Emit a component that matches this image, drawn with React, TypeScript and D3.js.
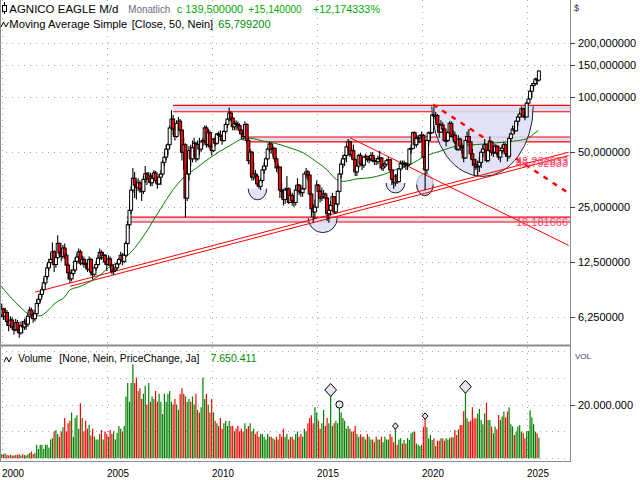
import React from 'react';
import * as d3 from 'd3';

// ---------- DATA (monthly, Jan 2000 .. Aug 2025) ----------
const firstOpen = 6.4;
const closePrices = [
  6.9, 6.3, 6.6, 5.9, 5.6, 6.0, 5.5, 5.3, 5.8, 5.3, 5.1, 5.6,
  5.5, 5.9, 5.7, 6.3, 6.8, 6.4, 6.1, 6.5, 7.4, 7.8, 8.3, 8.8,
  9.6, 10.4, 11.6, 12.4, 12.9, 14.2, 12.1, 13.2, 15.8, 14.0, 13.4, 14.9,
  13.6, 12.0, 10.9, 10.1, 10.8, 11.3, 12.6, 13.3, 14.2, 12.3, 12.9, 12.3,
  12.1, 11.4, 12.9, 11.0, 10.7, 11.6, 12.1, 13.1, 14.1, 13.2, 13.6, 12.5,
  12.1, 13.0, 12.0, 11.1, 11.3, 11.6, 12.2, 12.9, 13.6, 12.6, 13.6, 15.8,
  20.0, 24.0, 31.0, 36.0, 33.0, 32.0, 34.0, 31.5, 30.5, 35.5, 38.0, 36.0,
  37.0, 34.0, 36.0, 38.5, 35.0, 33.5, 36.5, 38.0, 44.0, 47.0, 52.0, 55.0,
  68, 76, 67, 61, 72, 74, 66, 50, 55, 28, 38, 51,
  46, 53, 56, 46, 55, 52, 57, 58, 68, 55, 64, 54,
  51, 59, 56, 63, 62, 61, 58, 65, 71, 76, 82, 77,
  69, 72, 71, 70, 66, 63, 61, 71, 58, 45, 50, 36.5,
  38, 37, 33.5, 32.5, 35, 40, 42, 46, 52, 55.5, 52, 52.5,
  46, 41, 41.5, 31, 30.5, 27.5, 31, 31.5, 26.5, 29, 27, 26.5,
  31, 33, 30.5, 30, 31.5, 38, 39, 37.5, 29.5, 24.5, 23.5, 25,
  33, 30.5, 28, 28.5, 29.5, 28, 23, 24, 25.5, 28.5, 23.5, 26,
  30.5, 38, 43, 46, 48, 53.5, 57, 48.5, 51, 45.5, 39, 42,
  48, 43, 42.5, 47, 47.5, 45.5, 46, 48, 45, 45, 44.5, 46,
  46.5, 41, 42, 43, 45, 45.5, 40, 35.5, 34, 37, 34.5, 40.5,
  43.5, 43, 43.5, 42.5, 43, 52, 52.5, 64, 55, 59.5, 60, 61.5,
  62, 47, 40, 58, 64, 64, 80, 79, 79.5, 71, 64.5, 70.5,
  67, 58, 58, 64, 72, 61, 62, 57, 52, 59, 54, 53,
  46.5, 58, 61, 57, 49, 45.5, 43, 41.5, 42, 44, 50, 52,
  55, 45, 51, 57, 50, 50, 54, 49.5, 47, 51, 52.5, 55,
  49, 47.5, 59.5, 63, 67, 65.5, 74, 78, 81, 86.5, 79, 78,
  93, 98, 108, 116, 119, 126, 124.36, 139.5,
];
const highPrices = [
  7.4, 7.0, 7.0, 6.8, 6.1, 6.3, 6.2, 5.7, 6.1, 6.0, 5.6, 5.9,
  5.9, 6.1, 6.2, 6.6, 7.1, 7.0, 6.6, 6.8, 7.8, 8.2, 8.6, 9.2,
  10.2, 10.9, 12.2, 13.0, 14.0, 16.0, 14.5, 14.0, 17.5, 16.0, 14.5, 15.5,
  15.8, 14.0, 12.3, 11.3, 11.4, 12.0, 13.2, 13.9, 14.8, 14.6, 13.5, 13.4,
  13.0, 12.5, 13.4, 13.2, 11.5, 12.0, 12.6, 13.6, 14.8, 14.5, 14.2, 13.8,
  12.8, 13.6, 13.4, 12.2, 11.8, 12.2, 12.6, 13.2, 14.2, 14.0, 14.0, 16.3,
  21.0, 26.0, 32.5, 41.0, 39.0, 35.0, 36.0, 35.0, 33.5, 37.0, 42.0, 39.0,
  39.0, 38.5, 38.0, 40.0, 39.5, 36.0, 38.0, 40.0, 45.0, 50.0, 55.0, 56.0,
  70, 85, 80, 69, 75, 78, 76, 67, 60, 56, 42, 54,
  55, 58, 60, 57, 58, 60, 58, 60, 70, 70, 67, 66,
  58, 60, 61, 64, 65, 66, 62, 66, 73, 77, 88, 84,
  78, 74, 75, 74, 72, 67, 66, 74, 72, 60, 52, 51,
  44, 40, 38, 35, 36, 42, 44, 47, 53, 57, 56, 54,
  53, 47, 43, 41, 34, 31.5, 32, 37, 32, 30.5, 30, 29,
  33, 36, 33.5, 33, 32.5, 38.5, 41, 40, 37.5, 30, 26, 27.5,
  35, 33.5, 31, 32, 31, 30, 28.5, 26, 27, 30, 28, 27,
  31, 39, 45, 48.5, 49, 55, 59, 58, 53, 55, 46, 44,
  49, 49.5, 46, 47.5, 49, 47.5, 47, 50, 50, 47, 46.5, 48,
  51, 47, 43.5, 44.5, 46, 47, 45.5, 40, 36, 38, 38, 41,
  45, 45, 45, 44, 43.5, 52.5, 55, 65, 65, 62, 62, 62.5,
  65, 63, 50, 58.5, 65, 66, 81, 89, 83, 81, 72, 75,
  73, 68, 60, 65.5, 74, 74, 66, 65, 58, 62, 60, 56,
  54, 58.5, 65, 67, 58, 52, 45, 46, 45, 47, 51, 55,
  59, 55.5, 52, 61, 58, 52, 55.5, 55, 51, 52, 55, 57,
  56, 50, 61, 64, 70, 70, 75, 80, 83, 89, 88, 83,
  95, 100, 110, 120, 122, 128, 128, 141,
];
const lowPrices = [
  6.2, 6.0, 6.0, 5.6, 5.2, 5.4, 5.3, 5.0, 5.2, 5.1, 4.8, 5.0,
  5.1, 5.3, 5.3, 5.5, 6.1, 6.1, 5.8, 5.9, 6.3, 7.1, 7.5, 8.0,
  8.6, 9.3, 10.0, 11.2, 11.8, 12.3, 11.0, 11.6, 13.0, 13.5, 12.6, 13.0,
  13.0, 11.6, 10.0, 9.6, 9.8, 10.5, 11.0, 12.2, 12.8, 12.0, 12.0, 11.6,
  11.5, 11.0, 11.2, 10.5, 10.0, 10.5, 11.2, 11.9, 12.8, 12.8, 12.9, 12.1,
  11.2, 11.9, 11.8, 10.7, 10.6, 11.0, 11.4, 12.0, 12.8, 12.0, 12.3, 13.4,
  15.5, 19.0, 23.0, 30.0, 28.0, 27.5, 30.5, 30.0, 27.0, 29.5, 34.0, 33.0,
  34.0, 32.5, 32.5, 35.0, 34.0, 31.5, 33.0, 33.0, 37.0, 42.0, 45.0, 48.0,
  52, 66, 62, 58, 60, 66, 62, 45, 40, 22, 27, 35,
  42, 44, 47, 44, 45, 48, 50, 54, 56, 53, 53, 52,
  48, 50, 54, 55, 57, 58, 55, 57, 63, 68, 74, 74,
  66, 66, 66, 67, 63, 59, 58, 60, 56, 43, 43, 35,
  35, 35, 32.5, 31.5, 31, 34, 38, 40, 45, 50, 49, 47,
  44, 39, 38, 28, 28, 25.5, 26, 29.5, 26, 26.5, 25.5, 25,
  25.5, 30, 29, 28.5, 28.5, 31, 36, 35, 29, 22, 20.5, 21.5,
  24.5, 29, 26.5, 27, 28, 27.5, 21, 20.5, 22.5, 25, 23, 23,
  25, 30, 36, 41, 42, 44, 51, 47, 46, 45, 37, 37,
  41, 42.5, 40, 41, 45, 44, 43.5, 44.5, 44, 42.5, 42.5, 43,
  44, 40, 39.5, 41, 42, 43, 39, 33, 31.5, 32.5, 33.5, 34,
  39.5, 40.5, 41, 40, 40, 42, 49, 52, 54, 53, 56, 56,
  57, 46, 31, 38, 54, 58, 64, 76, 72, 68, 60, 64,
  64, 57, 54, 57, 63, 60, 58, 55.5, 51, 51, 51, 49,
  44, 46, 56, 56, 46, 42, 37.5, 40, 37, 39, 41, 47,
  50, 44, 44, 50, 48, 47, 49, 48, 45.5, 44, 49, 50,
  47, 44.5, 46, 57, 62, 63, 65, 70, 74, 78, 77, 75,
  78, 91, 98, 100, 110, 117, 117, 122,
];
// monthly volume, millions of shares
const volumeMillions = [
  1.5, 1.5, 1.8, 1.2, 1.0, 1.3, 1.0, 1.0, 1.2, 1.3, 1.5, 1.0,
  1.5, 1.2, 1.0, 1.5, 2.0, 2.5, 1.6, 2.0, 5.0, 3.5, 5.0, 5.0,
  3.5, 5.0, 5.0, 4.0, 7.0, 7.5, 10.0, 10.5, 9.0, 8.0, 10.0, 11.5,
  15, 10, 13, 14, 17, 8, 15, 16, 11, 20.5, 15, 10,
  14, 11, 12.5, 8.5, 11, 8, 7, 7, 9, 10.5, 7, 10,
  9, 8, 10.5, 9, 10, 7, 9.5, 12, 11, 10, 12, 23,
  28, 21, 28, 35, 28, 30, 25, 26, 22, 24, 27, 20,
  28, 21, 23, 22, 25, 21, 24, 21, 16.5, 24, 21, 24,
  25, 21, 20, 22, 20, 18, 24, 26, 24, 23, 21, 22,
  21, 23, 20, 24, 18, 17, 19, 30, 22, 24, 20, 17,
  22, 17, 14, 13, 12, 15, 11, 13, 14, 12, 14, 12,
  12, 10, 11, 12, 10, 11, 10, 13, 11, 12, 13, 10,
  11, 9, 10, 8, 9, 9, 8, 7, 9, 8, 8, 7.5,
  7, 8, 7, 9, 8, 11, 8, 9, 7, 8, 8, 7,
  9, 10, 8, 9, 8, 11, 10, 13, 15, 16, 13, 19,
  17, 14, 11, 13, 18, 12, 15, 13, 25.4, 12, 13, 14,
  13, 20, 17, 15, 14, 11, 12, 11, 10, 10, 12, 9,
  8, 9, 8, 8, 7, 9, 8, 7, 7, 6, 8, 7,
  7, 8, 6, 8, 7, 7, 9, 8, 6, 12, 5, 7,
  7.5, 5.5, 6.8, 5.5, 7.5, 6.8, 9.3, 9.9, 9.9, 5.5, 5.0, 4.6,
  5.0, 11.7, 15.7, 11.5, 7.4, 8.7, 6.8, 7.5, 4.6, 6.5, 6.5, 7.5,
  7.5, 6.5, 7.5, 7.0, 7.5, 7.8, 7.8, 10.5, 8.7, 10.8, 12.4, 12.4,
  17.6, 26.6, 14.9, 13.6, 14.0, 19.0, 14.9, 14.9, 16.7, 18.3, 14.2, 12.7,
  16.7, 20.7, 14.2, 14.2, 11.8, 9.3, 11.8, 10.8, 16.1, 14.2, 15.5, 17.4,
  15.2, 17.4, 19.0, 12.7, 11.8, 8.7, 9.9, 11.8, 12.4, 9.9, 9.5, 7.5,
  10.1, 10.1, 17.9, 15.2, 12.7, 9.9, 9.3, 7.65,
];
// 50-month simple moving average
const maYears = [1999.92, 2000.4, 2000.87, 2001.35, 2001.82, 2002.14, 2002.54, 2003.01, 2003.25, 2003.73, 2004.2, 2004.68, 2005.16, 2005.63, 2006.11, 2006.59, 2007.54, 2008.17, 2008.65, 2009.29, 2009.92, 2010.4, 2010.87, 2011.5, 2011.82, 2012.46, 2012.93, 2013.73, 2014.36, 2014.84, 2015.48, 2015.95, 2016.27, 2016.9, 2017.54, 2018.17, 2018.97, 2019.44, 2020.16, 2020.87, 2021.67, 2022.62, 2023.57, 2024.36, 2025.0, 2025.31, 2025.55];
const maValues = [9.36, 8.06, 7.09, 6.41, 6.32, 6.67, 7.42, 8.06, 8.78, 9.16, 9.75, 10.6, 11.8, 12.55, 13.96, 16.3, 24.2, 31.2, 36.2, 41.1, 46.6, 50.6, 54.4, 59.3, 59.7, 57.5, 56.3, 52.8, 49.6, 45.6, 40.1, 35.4, 34.6, 35.7, 36.2, 37.7, 41.0, 42.8, 47.5, 50.6, 54.0, 55.1, 56.3, 57.5, 59.3, 62.6, 65.8];

const priceTicks = [200, 150, 100, 50, 25, 12.5, 6.25];
const volumeTicks = [0, 10, 20, 30, 40];
const volumeLabelTicks = [20];
const yearTicks = [2000, 2005, 2010, 2015, 2020, 2025];

// drawn annotations (decimal year, price)
const bands = [
  { from: 2008.16, to: 2027.2, top: 90.4, bottom: 83.4 },
  { from: 2011.74, to: 2027.2, top: 60.6, bottom: 57.0 },
  { from: 2005.95, to: 2027.2, top: 22.0, bottom: 20.7 },
];
const trendLines = [
  { x0: 2001.59, p0: 8.53, x1: 2027.0, p1: 50.0 },
  { x0: 2003.26, p0: 9.19, x1: 2027.0, p1: 47.9 },
  { x0: 2016.59, p0: 60.0, x1: 2027.0, p1: 15.4 },
];
const dashedLines = [{ x0: 2020.54, p0: 91.5, x1: 2026.97, p1: 30.0 }];
const bowls = [
  { x0: 2011.74, x1: 2012.62, top: 31.6, bottom: 27.4, full: false },
  { x0: 2014.6, x1: 2015.98, top: 21.8, bottom: 18.1, full: false },
  { x0: 2018.3, x1: 2019.2, top: 33.9, bottom: 29.9, full: false },
  { x0: 2019.76, x1: 2020.55, top: 38.2, bottom: 28.9, full: true },
  { x0: 2020.48, x1: 2025.31, top: 89.2, bottom: 36.8, full: false },
];
const levelLabels = [
  { text: '18,181666', price: 19.6 },
  { text: '43,232833', price: 42.6 },
  { text: '45,792833', price: 41.6 },
];
const volumeMarkers = [
  { index: 188, kind: 'big' },
  { index: 193, kind: 'round' },
  { index: 225, kind: 'small' },
  { index: 242, kind: 'small' },
  { index: 265, kind: 'big' },
];

// header texts: [text, x, width, colour]
const headerLine1 = [
  ['AGNICO EAGLE M/d', 9.3, 109, '#000'],
  ['Monatlich', 128.3, 42, '#6c6c80'],
  ['c 139,500000', 176.7, 66.5, '#00aa00'],
  ['+15,140000', 248.3, 53.4, '#00aa00'],
  ['+12,174333%', 313, 67, '#00aa00'],
];
const headerLine2 = [
  ['Moving Average Simple', 9.3, 118, '#000'],
  ['[Close, 50, Nein]', 131.7, 81.5, '#000'],
  ['65,799200', 218.3, 52.4, '#008c00'],
];
const headerVolume = [
  ['Volume', 18.3, 33.4, '#000'],
  ['[None, Nein, PriceChange, Ja]', 59.3, 140, '#000'],
  ['7.650.411', 210.5, 46, '#008c00'],
];

// ---------- LAYOUT ----------
const W = 640, H = 480;
const AX = 570;
const MAIN_BOTTOM = 345;
const VOL_TOP = 347, VOL_BOTTOM = 461;
const FONT = 'Liberation Sans, Arial, sans-serif';
const RED = '#ff0000';
const LAV = '#dedef6';

const yearToDate = (y: number) => {
  const yr = Math.floor(y);
  const start = new Date(yr, 0, 1).getTime();
  const end = new Date(yr + 1, 0, 1).getTime();
  return new Date(start + (y - yr) * (end - start));
};

function HeaderRow({ items, y }: { items: any[]; y: number }) {
  return (
    <>
      {items.map(([t, x, w, c]) => (
        <text key={t} x={x} y={y} fill={c} fontSize={11.5} textLength={w} lengthAdjust="spacingAndGlyphs">{t}</text>
      ))}
    </>
  );
}

export default function App() {
  const x = d3.scaleTime().domain([new Date(2000, 0, 1), new Date(2025, 0, 1)]).range([1.7, 526.7]);
  const y = d3.scaleLog().base(2).domain([6.25, 200]).range([316.8, 42.5]);
  const yv = d3.scaleLinear().domain([0, 40]).range([458.3, 350.7]);
  const xy = (yr: number) => x(yearToDate(yr));

  const candles = closePrices.map((c, i) => {
    const o = i === 0 ? firstOpen : closePrices[i - 1];
    return { date: new Date(2000, i, 1), o, c, h: highPrices[i], l: lowPrices[i], v: volumeMillions[i], up: c >= o };
  });

  const maLine = d3.line<number>()
    .x((_, i) => xy(maYears[i]))
    .y((v) => y(v))
    .curve(d3.curveMonotoneX)(maValues) || '';

  const dotted = { stroke: '#a8a8a8', strokeWidth: 1, strokeDasharray: '1,5' };
  const fmtP = (v: number) => v.toFixed(6).replace('.', ',');
  const fmtV = (v: number) => d3.format(',')(v * 1e6).replace(/,/g, '.');

  return (
    <svg width={W} height={H} style={{ position: 'absolute', left: 0, top: 0, background: '#fff' }} fontFamily={FONT}>
      <defs>
        <clipPath id="mainClip"><rect x={0} y={0} width={AX} height={MAIN_BOTTOM} /></clipPath>
        <clipPath id="volClip"><rect x={0} y={VOL_TOP} width={AX} height={VOL_BOTTOM - VOL_TOP} /></clipPath>
      </defs>
      <rect x={0} y={0} width={W} height={H} fill="#fff" />

      {/* grid */}
      {priceTicks.map((t) => (
        <line key={'pg' + t} x1={0} x2={AX} y1={Math.round(y(t)) + 0.5} y2={Math.round(y(t)) + 0.5} {...dotted} />
      ))}
      {yearTicks.map((t) => (
        <g key={'yg' + t}>
          <line x1={Math.round(xy(t)) + 0.5} x2={Math.round(xy(t)) + 0.5} y1={0} y2={MAIN_BOTTOM} {...dotted} />
          <line x1={Math.round(xy(t)) + 0.5} x2={Math.round(xy(t)) + 0.5} y1={VOL_TOP} y2={VOL_BOTTOM} {...dotted} />
        </g>
      ))}
      {volumeTicks.map((t) => (
        <line key={'vg' + t} x1={0} x2={AX} y1={Math.round(yv(t)) + 0.5} y2={Math.round(yv(t)) + 0.5} {...dotted} />
      ))}

      <g clipPath="url(#mainClip)">
        {/* bands */}
        {bands.map((b, i) => (
          <g key={'b' + i}>
            <rect x={xy(b.from)} width={xy(b.to) - xy(b.from)} y={y(b.top)} height={y(b.bottom) - y(b.top)} fill={LAV} />
            <line x1={xy(b.from)} x2={xy(b.to)} y1={y(b.top)} y2={y(b.top)} stroke={RED} strokeWidth={1.2} />
            <line x1={xy(b.from)} x2={xy(b.to)} y1={y(b.bottom)} y2={y(b.bottom)} stroke={RED} strokeWidth={1.2} />
          </g>
        ))}
        {/* bowls */}
        {bowls.map((b, i) => {
          const x0 = xy(b.x0), x1 = xy(b.x1);
          const yt = y(b.top), yb = y(b.bottom);
          if (b.full) {
            const cx = (x0 + x1) / 2, cy = (yt + yb) / 2, rx = (x1 - x0) / 2, ry = (yb - yt) / 2;
            return (
              <g key={'bw' + i}>
                <ellipse cx={cx} cy={cy} rx={rx} ry={ry} fill={LAV} stroke="#9090a8" strokeWidth={0.8} />
                <path d={`M${x0},${cy} A${rx},${ry} 0 0 0 ${x1},${cy}`} fill="none" stroke="#202030" strokeWidth={1} />
              </g>
            );
          }
          const rx = (x1 - x0) / 2, ry = yb - yt;
          return (
            <g key={'bw' + i}>
              <path d={`M${x0},${yt} A${rx},${ry} 0 0 0 ${x1},${yt} Z`} fill={LAV} opacity={0.85} />
              <path d={`M${x0},${yt} A${rx},${ry} 0 0 0 ${x1},${yt}`} fill="none" stroke="#202030" strokeWidth={1} />
            </g>
          );
        })}
        {/* trend lines */}
        {trendLines.map((t, i) => (
          <line key={'t' + i} x1={xy(t.x0)} y1={y(t.p0)} x2={xy(t.x1)} y2={y(t.p1)} stroke={RED} strokeWidth={1} />
        ))}
        {dashedLines.map((t, i) => (
          <line key={'d' + i} x1={xy(t.x0)} y1={y(t.p0)} x2={xy(t.x1)} y2={y(t.p1)} stroke={RED} strokeWidth={2.4} strokeDasharray="5,6" />
        ))}
        {/* moving average */}
        <path d={maLine} fill="none" stroke="#008000" strokeWidth={1} />
        {/* candles */}
        {candles.map((d, i) => {
          const cx = x(d.date);
          const top = y(Math.max(d.o, d.c)), bot = y(Math.min(d.o, d.c));
          return (
            <g key={'c' + i}>
              <line x1={cx} x2={cx} y1={y(d.h)} y2={y(d.l)} stroke="#000" strokeWidth={1.1} />
              <rect x={cx - 1.5} y={top} width={3} height={Math.max(bot - top, 0.8)} fill={d.up ? '#fff' : RED} stroke="#000" strokeWidth={1} />
            </g>
          );
        })}
        {/* level labels */}
        {levelLabels.map((l, i) => (
          <text key={'ll' + i} x={AX - 2} y={y(l.price)} textAnchor="end" fontSize={11} fill="#ff4a6a">{l.text}</text>
        ))}
      </g>

      {/* volume */}
      <g clipPath="url(#volClip)">
        {candles.map((d, i) => (
          <line key={'v' + i} x1={x(d.date)} x2={x(d.date)} y1={yv(0)} y2={yv(d.v)} stroke={d.up ? '#008000' : RED} strokeWidth={1.2} />
        ))}
        {volumeMarkers.map((m, i) => {
          const d = candles[m.index];
          const cx = x(d.date), cy = yv(d.v);
          if (m.kind === 'round') return <circle key={'m' + i} cx={cx} cy={cy} r={3.6} fill="#e4e4ee" stroke="#000" strokeWidth={1} />;
          const s = m.kind === 'big' ? 6.5 : 3.2;
          return <path key={'m' + i} d={`M${cx},${cy - s} L${cx + s * 0.9},${cy} L${cx},${cy + s} L${cx - s * 0.9},${cy} Z`} fill="#e4e4ee" stroke="#000" strokeWidth={1} />;
        })}
      </g>

      {/* frame */}
      <line x1={0.5} x2={0.5} y1={0} y2={VOL_BOTTOM} stroke="#8c8c8c" />
      <line x1={AX + 0.5} x2={AX + 0.5} y1={0} y2={VOL_BOTTOM + 0.5} stroke="#8c8c8c" />
      <line x1={0} x2={AX} y1={MAIN_BOTTOM + 0.5} y2={MAIN_BOTTOM + 0.5} stroke="#8c8c8c" strokeWidth={2} />
      <line x1={0} x2={AX + 1} y1={VOL_BOTTOM + 0.5} y2={VOL_BOTTOM + 0.5} stroke="#8c8c8c" />

      {/* price axis */}
      <text x={574} y={11} fontSize={9} fill="#303040">$</text>
      {priceTicks.map((t) => (
        <g key={'pt' + t}>
          <line x1={AX} x2={AX + 5} y1={Math.round(y(t)) + 0.5} y2={Math.round(y(t)) + 0.5} stroke="#404040" />
          <text x={578} y={y(t) + 4} fontSize={11} fill="#000">{fmtP(t)}</text>
        </g>
      ))}
      {/* volume axis */}
      <text x={575} y={359} fontSize={8} fill="#404060">VOL</text>
      {volumeLabelTicks.map((t) => (
        <g key={'vt' + t}>
          <line x1={AX} x2={AX + 5} y1={Math.round(yv(t)) + 0.5} y2={Math.round(yv(t)) + 0.5} stroke="#404040" />
          <text x={578} y={yv(t) + 4} fontSize={11} fill="#000">{fmtV(t)}</text>
        </g>
      ))}
      {/* year axis */}
      {yearTicks.map((t) => (
        <text key={'yt' + t} x={xy(t) + 0.3} y={477} fontSize={11.5} fill="#000" textLength={22} lengthAdjust="spacingAndGlyphs">{t}</text>
      ))}

      {/* header */}
      <line x1={4.5} x2={4.5} y1={2} y2={14} stroke="#000" />
      <rect x={2.5} y={5.5} width={4} height={6} fill="#fff" stroke="#000" />
      <HeaderRow items={headerLine1} y={12.5} />
      <path d="M1,27 L3.5,22 L6,27 L8.5,22" fill="none" stroke="#000" strokeWidth={1} />
      <HeaderRow items={headerLine2} y={27.5} />
      <path d="M4,362 L6.5,357 L9,362 L11.5,357" fill="none" stroke="#000" strokeWidth={1} />
      <HeaderRow items={headerVolume} y={362} />
    </svg>
  );
}
